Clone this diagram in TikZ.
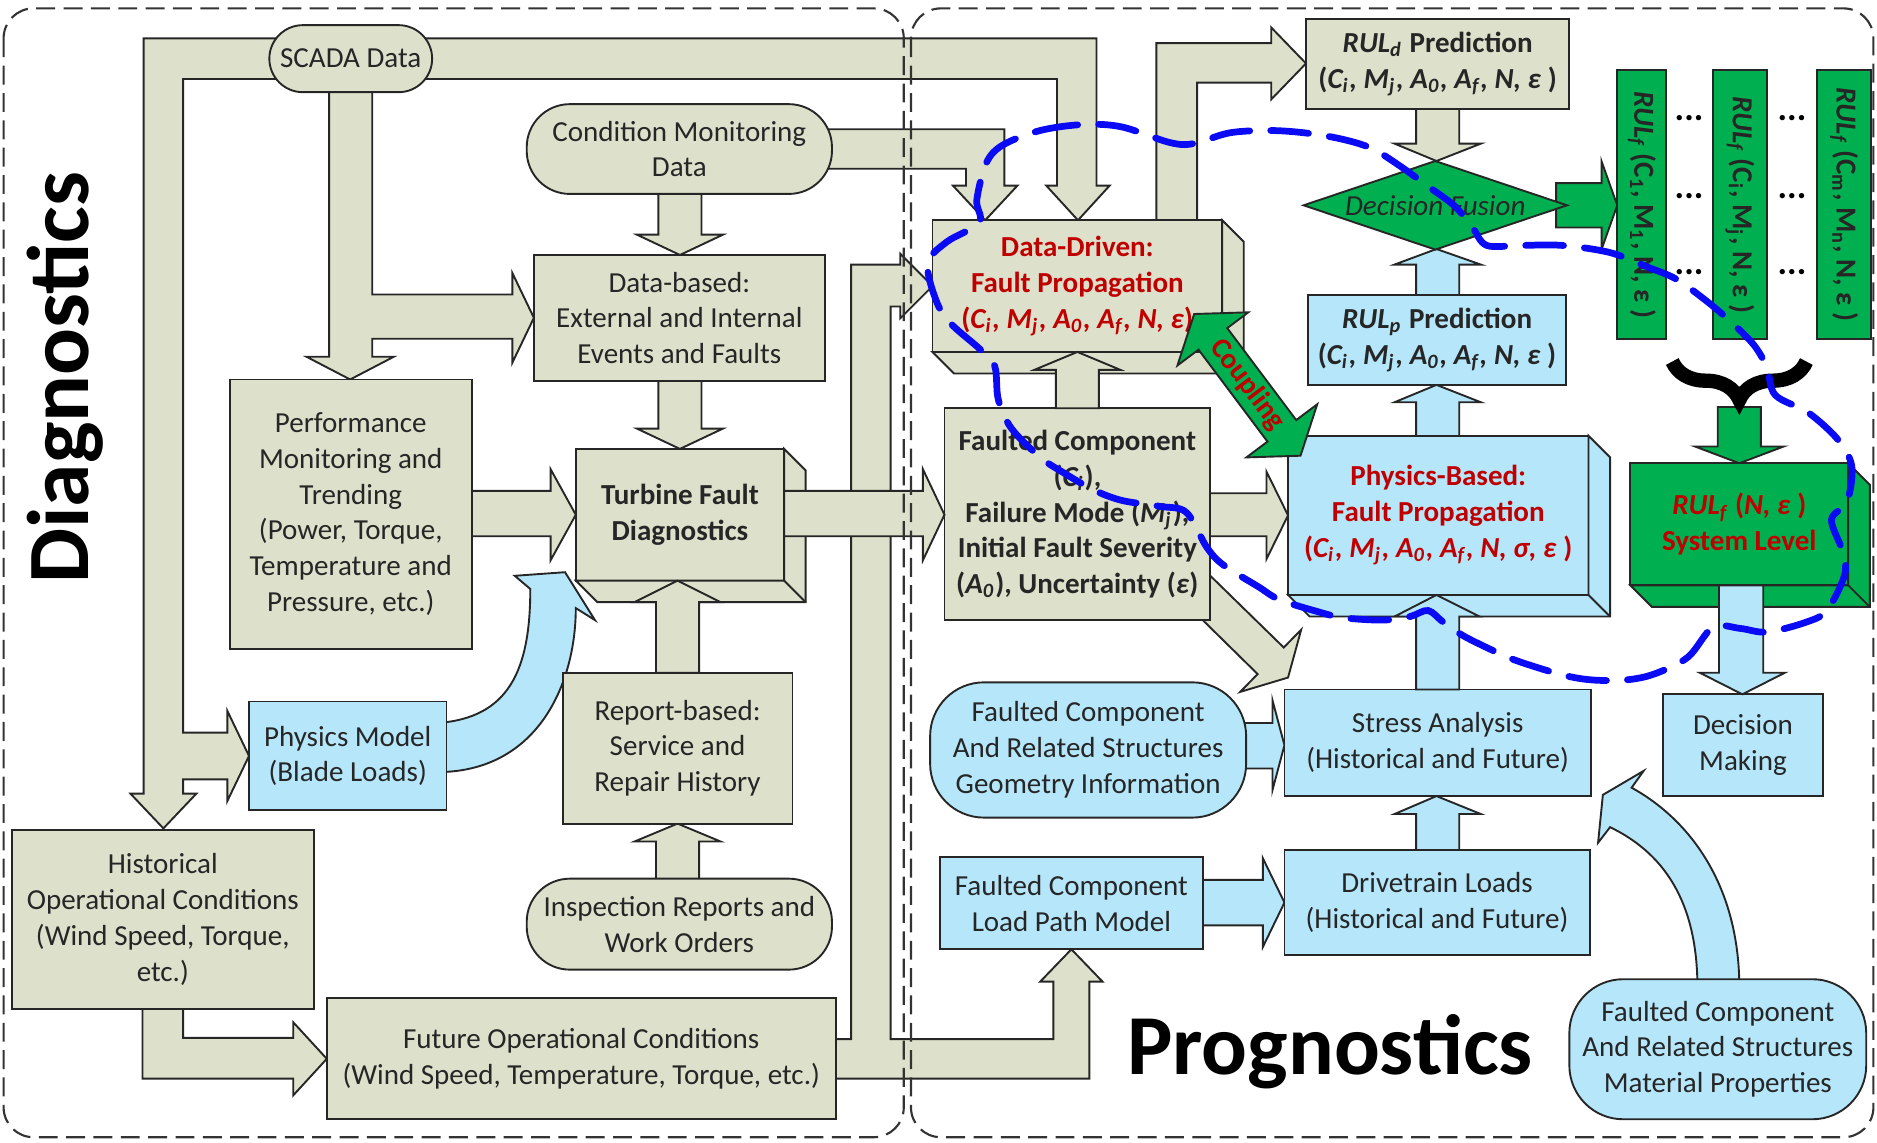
\documentclass[tikz,border=0pt]{standalone}
\usepackage{fontspec}
\setmainfont{Carlito}
\usepackage{xcolor}
\usepackage{tikz}
\usetikzlibrary{shapes.geometric,decorations.pathreplacing}

\definecolor{beige}{RGB}{221,224,203}
\definecolor{ltblue}{RGB}{181,230,250}
\definecolor{grn}{RGB}{0,176,80}
\definecolor{fpred}{RGB}{192,0,0}
\definecolor{penblue}{RGB}{10,10,245}

\newcommand\boxfont{\fontsize{6.9}{8.5}\selectfont}
\newcommand\sub[1]{\textsubscript{#1}}
\newcommand\cma{\textit{C\sub{i}, M\sub{j}, A\sub{0}, A\sub{f}, N,}}
% right and bottom faces of a box drawn as a cube
\newcommand\cubeside[2]{%
  \draw[#2] (#1.north east) -- ++(18,18) -- ([shift={(18,18)}]#1.south east)
    -- ([shift={(18,18)}]#1.south west) -- (#1.south west) -- (#1.south east) -- cycle;
  \draw[#2] (#1.south east) -- ++(18,18);}

\begin{document}
\begin{tikzpicture}[x=0.1mm, y=-0.1mm,
    box/.style={draw=black!85, line width=0.45pt, inner sep=0pt, outer sep=0pt, align=center, font=\boxfont, text=black!85},
    tanbox/.style={box, fill=beige},
    skybox/.style={box, fill=ltblue},
    leafbox/.style={box, fill=grn},
    pill/.style={rounded corners=#1},
    tanarr/.style={draw=black!85, line width=0.45pt, fill=beige},
    skyarr/.style={draw=black!85, line width=0.45pt, fill=ltblue},
    leafarr/.style={draw=black!85, line width=0.45pt, fill=grn},
    frame/.style={draw=black!80, line width=0.5pt, dash pattern=on 4.5pt off 2pt, rounded corners=2.5mm},
    pen/.style={draw=penblue, line width=1.6pt, dash pattern=on 9pt off 5pt, line cap=round}]
\useasboundingbox (0,0) rectangle (1568,954);

% block arrows under the boxes
\draw[tanarr] (240,32) -- (120,32) -- (120,663) -- (109,663) -- (136.5,692) -- (164,663) -- (153,663) -- (153,651) -- (190,651) -- (190,669) -- (208,631.5) -- (190,594) -- (190,612) -- (153,612) -- (153,66) -- (240,66) -- cycle;
\draw[tanarr] (275,60) -- (275,298) -- (256,298) -- (292.5,317) -- (329,298) -- (311,298) -- (311,283) -- (428,283) -- (428,303) -- (446,265.5) -- (428,228) -- (428,246) -- (311,246) -- (311,60) -- cycle;
\draw[tanarr] (350,32) -- (916,32) -- (916,155) -- (927,155) -- (900.5,184) -- (874,155) -- (883,155) -- (883,66) -- (350,66) -- cycle;
\draw[tanarr] (680,108) -- (839,108) -- (839,155) -- (850,155) -- (823,184) -- (796,155) -- (807,155) -- (807,141) -- (680,141) -- cycle;
\draw[tanarr] (550,150) -- (550,196) -- (532,196) -- (568,213) -- (604,196) -- (586,196) -- (586,150) -- cycle;
\draw[tanarr] (550,310) -- (550,358) -- (532,358) -- (568,375) -- (604,358) -- (586,358) -- (586,310) -- cycle;
\draw[tanarr] (385,410) -- (460,410) -- (460,392) -- (481,430) -- (460,468) -- (460,448) -- (385,448) -- cycle;
\draw[skyarr] (365,604) .. controls (425,600) and (443,560) .. (443,492) -- (430,481) -- (472,478) -- (497,518) -- (481,508) .. controls (481,570) and (450,645) .. (365,645) -- cycle;
\draw[tanarr] (548,745) -- (548,703) -- (530,703) -- (566,688) -- (602,703) -- (584,703) -- (584,745) -- cycle;
\draw[tanarr] (119,835) -- (119,901) -- (245,901) -- (245,915) -- (273,884.5) -- (245,854) -- (245,867) -- (153,867) -- (153,835) -- cycle;
\draw[tanarr] (690,868) -- (711,868) -- (711,221) -- (752,221) -- (752,212) -- (779,239) -- (752,266) -- (752,256) -- (744,256) -- (744,868) -- (880,868) -- (880,820) -- (869,820) -- (895,793) -- (921,820) -- (910,820) -- (910,901) -- (690,901) -- cycle;
\draw[tanarr] (1008,478) -- (1072.4,540.9) -- (1087,526) -- (1076,566) -- (1036,578) -- (1050.6,563.1) -- (986.4,500) -- cycle;
\draw[tanarr] (1005,412) -- (1058,412) -- (1058,394) -- (1076,430.5) -- (1058,467) -- (1058,448) -- (1005,448) -- cycle;
\draw[tanarr] (966,190) -- (966,36) -- (1062,36) -- (1062,23) -- (1091,53) -- (1062,83) -- (1062,69) -- (1000,69) -- (1000,190) -- cycle;
\draw[tanarr] (1183,85) -- (1183,120) -- (1165,120) -- (1200,134.5) -- (1237,120) -- (1219,120) -- (1219,85) -- cycle;
\draw[skyarr] (1183,252) -- (1183,221) -- (1165,221) -- (1200,208) -- (1237,221) -- (1219,221) -- (1219,252) -- cycle;
\draw[skyarr] (1183,370) -- (1183,336) -- (1165,336) -- (1200,321.5) -- (1237,336) -- (1219,336) -- (1219,370) -- cycle;
\draw[skyarr] (1183,716) -- (1183,680) -- (1165,680) -- (1200,665) -- (1237,680) -- (1219,680) -- (1219,716) -- cycle;
\draw[skyarr] (1030,604) -- (1063,604) -- (1063,585) -- (1073,622.5) -- (1063,660) -- (1063,642) -- (1030,642) -- cycle;
\draw[skyarr] (998,735) -- (1055,735) -- (1055,717) -- (1073,754) -- (1055,791) -- (1055,773) -- (998,773) -- cycle;
\draw[skyarr] (1418,825) .. controls (1418,760) and (1395,715) .. (1345,691) -- (1335,704) -- (1339,664) -- (1373,644) -- (1363,658) .. controls (1412,685) and (1453,740) .. (1453,825) -- cycle;
\draw[leafarr] (1300,153) -- (1338,153) -- (1338,135) -- (1351,171.5) -- (1338,208) -- (1338,190) -- (1300,190) -- cycle;
\draw[leafarr] (1435,340) -- (1435,373) -- (1416,373) -- (1453,387) -- (1490,373) -- (1471,373) -- (1471,340) -- cycle;

% diagnostics side
\node[tanbox, pill=2.8mm, minimum width=13.6mm, minimum height=5.6mm] (scada) at (293,49) {SCADA Data};
\node[tanbox, pill=3.6mm, minimum width=25.5mm, minimum height=7.5mm] (cm) at (567.5,124.5) {Condition Monitoring\\Data};
\node[tanbox, minimum width=24.3mm, minimum height=10.5mm] (databased) at (567.5,265.5) {Data-based:\\External and Internal\\Events and Faults};
\node[tanbox, minimum width=20.2mm, minimum height=22.5mm] (perf) at (293,429.5) {Performance\\Monitoring and\\Trending\\(Power, Torque,\\Temperature and\\Pressure, etc.)};
\node[tanbox, minimum width=17.4mm, minimum height=11mm, font=\boxfont\bfseries] (turbine) at (568,430) {Turbine Fault\\Diagnostics};
\node[skybox, minimum width=16.5mm, minimum height=9.1mm] (physmodel) at (290.5,631.5) {Physics Model\\(Blade Loads)};
\node[tanbox, minimum width=19.2mm, minimum height=12.6mm] (report) at (566,625) {Report-based:\\Service and\\Repair History};
\node[tanbox, pill=3.6mm, minimum width=25.5mm, minimum height=7.6mm] (inspection) at (567.5,772) {Inspection Reports and\\Work Orders};
\node[tanbox, minimum width=25.2mm, minimum height=15mm] (historical) at (136,768) {Historical\\Operational Conditions\\(Wind Speed, Torque,\\etc.)};
\node[tanbox, minimum width=42.5mm, minimum height=10.1mm] (future) at (485.5,884.5) {Future Operational Conditions\\(Wind Speed, Temperature, Torque, etc.)};

% prognostics side
\node[tanbox, minimum width=24.2mm, minimum height=11mm, text=fpred, font=\boxfont\bfseries] (datadriven) at (900,239) {Data-Driven:\\Fault Propagation\\(\cma\ \textit{ε})};
\node[tanbox, minimum width=22.2mm, minimum height=17.7mm, font=\boxfont\bfseries] (faulted) at (900,429.5) {Faulted Component\\(\textit{C\sub{i}}),\\Failure Mode (\textit{M\sub{j}}),\\Initial Fault Severity\\(\textit{A\sub{0}}), Uncertainty (\textit{ε})};
\node[tanbox, minimum width=22mm, minimum height=7.5mm, font=\boxfont\bfseries] (ruld) at (1201,53.5) {\textit{RUL\sub{d}} Prediction\\(\cma\ \textit{ε} )};
\node[leafbox, diamond, aspect=3, minimum width=22mm, minimum height=7.4mm, font=\boxfont\itshape] (fusion) at (1199,171.5) {Decision Fusion};
\node[skybox, minimum width=21.5mm, minimum height=7.5mm, font=\boxfont\bfseries] (rulp) at (1200.5,284) {\textit{RUL\sub{p}} Prediction\\(\cma\ \textit{ε} )};
\node[skybox, minimum width=25.1mm, minimum height=13.3mm, text=fpred, font=\boxfont\bfseries] (physics) at (1201.5,430.5) {Physics-Based:\\Fault Propagation\\(\cma\ \textit{σ, ε} )};
\foreach \n/\x/\w/\c/\m in {1/1371.5/4.1/1/1, 2/1453.5/4.5/i/j, 3/1540.5/4.5/m/n}
  \node[leafbox, rotate=-90, minimum width=22.5mm, minimum height=\w mm, font=\boxfont\bfseries] (rulf\n) at (\x,171) {\textit{RUL\sub{f}} (C\sub{\c}, M\sub{\m}, N, ε )};
\foreach \y in {99,164,227} {
  \node[font=\fontsize{8.5}{9}\selectfont\bfseries] (dl\y) at (1411,\y) {...};
  \node[font=\fontsize{8.5}{9}\selectfont\bfseries] (dr\y) at (1497,\y) {...};
}
\node[leafbox, minimum width=18.2mm, minimum height=10.2mm, text=fpred, font=\boxfont\bfseries] (syslevel) at (1453,438) {\textit{RUL\sub{f}} (\textit{N, ε} )\\System Level};
\node[skybox, minimum width=13.4mm, minimum height=8.5mm] (decision) at (1456,622.5) {Decision\\Making};
\node[skybox, minimum width=25.6mm, minimum height=8.9mm] (stress) at (1201,620.5) {Stress Analysis\\(Historical and Future)};
\node[skybox, minimum width=25.5mm, minimum height=8.8mm] (drivetrain) at (1200.5,754) {Drivetrain Loads\\(Historical and Future)};
\node[skybox, pill=4.5mm, minimum width=26.4mm, minimum height=11.3mm] (geometry) at (909,626.5) {Faulted Component\\And Related Structures\\Geometry Information};
\node[skybox, minimum width=22mm, minimum height=7.7mm] (loadpath) at (895,754.5) {Faulted Component\\Load Path Model};
\node[skybox, pill=4.5mm, minimum width=24.8mm, minimum height=11.7mm] (material) at (1435,876.5) {Faulted Component\\And Related Structures\\Material Properties};

\cubeside{turbine}{tanarr}
\cubeside{datadriven}{tanarr}
\cubeside{physics}{skyarr}
\cubeside{syslevel}{leafarr}

\draw[line width=3.4pt, decorate, decoration={brace, amplitude=3.2mm}] (1509,302) -- (1397,302);

% block arrows over the cube faces
\draw[tanarr] (548,562) -- (548,503) -- (530,503) -- (566,485) -- (602,503) -- (584,503) -- (584,562) -- cycle;
\draw[tanarr] (882,341) -- (882,309) -- (864,309) -- (900,294) -- (936,309) -- (918,309) -- (918,341) -- cycle;
\draw[skyarr] (1183,576) -- (1183,515) -- (1165,515) -- (1200,497) -- (1236,515) -- (1219,515) -- (1219,576) -- cycle;
\draw[tanarr] (655,410) -- (771,410) -- (771,392) -- (789,430) -- (771,468) -- (771,448) -- (655,448) -- cycle;
\draw[skyarr] (1436,489) -- (1436,562) -- (1420,562) -- (1455.5,580) -- (1491,562) -- (1473,562) -- (1473,489) -- cycle;
\begin{scope}[shift={(1042,321.5)}, rotate=-53.13]
  \draw[leafarr] (-74,0) -- (-48,37) -- (-48,15) -- (48,15) -- (48,37) -- (74,0) -- (48,-37) -- (48,-15) -- (-48,-15) -- (-48,-37) -- cycle;
  \node[rotate=-53.13, text=fpred, font=\boxfont\bfseries] (coupling) at (0,0) {Coupling};
\end{scope}

\draw[frame] (3,7) rectangle (755,950);
\draw[frame] (761,7) rectangle (1565,950);

\node[font=\fontsize{20.8}{24}\selectfont\bfseries, rotate=90, anchor=base] (diaglabel) at (74,315.5) {Diagnostics};
\node[font=\fontsize{20.3}{24}\selectfont\bfseries, anchor=base] (proglabel) at (1111,898) {Prognostics};

\draw[pen] plot[smooth cycle, tension=0.55] coordinates {
  (838,121) (869,109) (905,104) (937,106) (977,119) (997,120) (1027,111) (1060,109)
  (1090,111) (1120,116) (1146,124) (1170,139) (1192,155) (1215,172) (1230,190)
  (1242,205) (1270,205) (1305,205) (1345,211) (1376,223) (1400,233) (1425,251)
  (1445,268) (1465,288) (1476,307) (1483,330) (1511,345) (1536,368) (1547,390)
  (1543,419) (1530,434) (1539,460) (1541,480) (1526,510) (1508,520) (1476,528)
  (1454,525) (1431,524) (1410,549) (1382,563) (1358,568) (1330,568) (1306,564)
  (1273,554) (1255,547) (1224,532) (1206,520) (1193,510) (1178,515) (1155,518)
  (1122,516) (1101,511) (1069,501) (1051,490) (1022,472) (1008,457) (991,428)
  (969,423) (937,418) (913,409) (887,394) (869,382) (845,358) (834,334) (831,306)
  (819,292) (794,270) (782,251) (775,220) (791,202) (818,186) (816,167) (824,136)};
\end{tikzpicture}
\end{document}
